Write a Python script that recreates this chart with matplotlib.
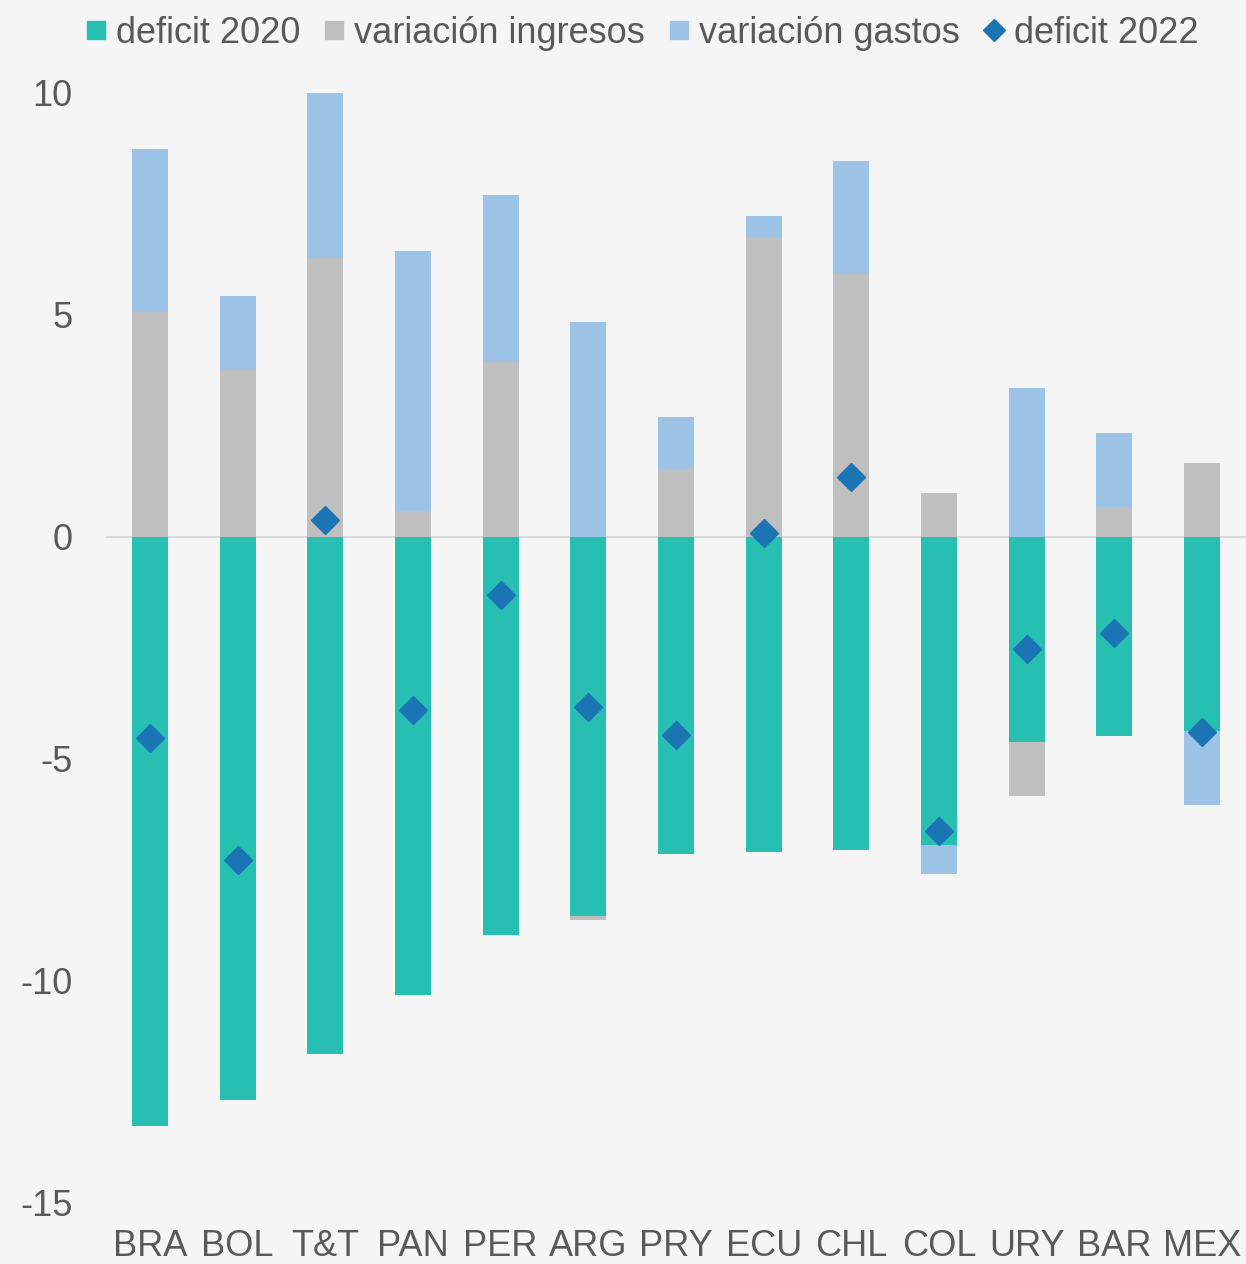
import numpy as np
import matplotlib.pyplot as plt
from matplotlib.lines import Line2D

plt.rcParams['font.family'] = ['Liberation Sans', 'DejaVu Sans']
plt.rcParams['axes.unicode_minus'] = False

paises = ['BRA', 'BOL', 'T&T', 'PAN', 'PER', 'ARG', 'PRY', 'ECU', 'CHL', 'COL', 'URY', 'BAR', 'MEX']
deficit_2020 = [-13.27, -12.68, -11.64, -10.32, -8.96, -8.54, -7.14, -7.09, -7.05, -6.94, -4.62, -4.48, -4.37]
var_ingresos = [5.07, 3.76, 6.28, 0.59, 3.94, -0.09, 1.53, 6.73, 5.92, 0.99, -1.22, 0.68, 1.67]
var_gastos = [3.67, 1.67, 5.74, 5.85, 3.76, 4.84, 1.17, 0.50, 2.55, -0.65, 3.36, 1.66, -1.67]
deficit_2022 = [-4.53, -7.27, 0.38, -3.90, -1.31, -3.83, -4.46, 0.09, 1.35, -6.62, -2.52, -2.16, -4.39]

series = [
    ('deficit 2020', deficit_2020, '#26BFB1'),
    ('variación ingresos', var_ingresos, '#BFBFBF'),
    ('variación gastos', var_gastos, '#9DC3E6'),
]
color_rombo = '#1B75B4'
color_texto = '#595959'
fondo = '#F5F5F5'

fig = plt.figure(figsize=(12.46, 12.64), dpi=100, facecolor=fondo)
ax = fig.add_axes([106 / 1246, 1 - 1203 / 1264, 1 - 106 / 1246, (1203 - 93) / 1264])
ax.set_facecolor(fondo)

x = np.arange(len(paises))
ancho = 0.41

# apilado tipo Excel: positivos hacia arriba, negativos hacia abajo
base_pos = np.zeros(len(paises))
base_neg = np.zeros(len(paises))
for nombre, vals, color in series:
    v = np.array(vals)
    base = np.where(v >= 0, base_pos, base_neg)
    ax.bar(x, v, ancho, bottom=base, color=color, linewidth=0, zorder=2)
    base_pos = base_pos + np.where(v >= 0, v, 0)
    base_neg = base_neg + np.where(v < 0, v, 0)

ax.plot(x, deficit_2022, linestyle='none', marker='D', markersize=14.5,
        color=color_rombo, zorder=3)

ax.axhline(0, color='#D9D9D9', linewidth=1.5, zorder=1)

ax.set_xlim(-0.5, len(paises) - 0.5)
ax.set_ylim(-15, 10)
ax.set_yticks([10, 5, 0, -5, -10, -15])
ax.set_xticks(x)
ax.set_xticklabels(paises)
ax.tick_params(axis='both', length=0, labelsize=26, labelcolor=color_texto)
ax.tick_params(axis='y', pad=24)
ax.tick_params(axis='x', pad=19)
for s in ax.spines.values():
    s.set_visible(False)

handles = [Line2D([], [], linestyle='none', marker='s', markersize=12.5, color=c, label=n)
           for n, _, c in series]
handles.append(Line2D([], [], linestyle='none', marker='D', markersize=11,
                      color=color_rombo, label='deficit 2022'))
fig.legend(handles=handles, loc='upper center', bbox_to_anchor=(0.515, 0.999), ncol=4,
           frameon=False, fontsize=26, labelcolor=color_texto, handlelength=0.6,
           handletextpad=0.25, columnspacing=0.65, borderaxespad=0)

fig.savefig('out.png', dpi=100, facecolor=fondo)
